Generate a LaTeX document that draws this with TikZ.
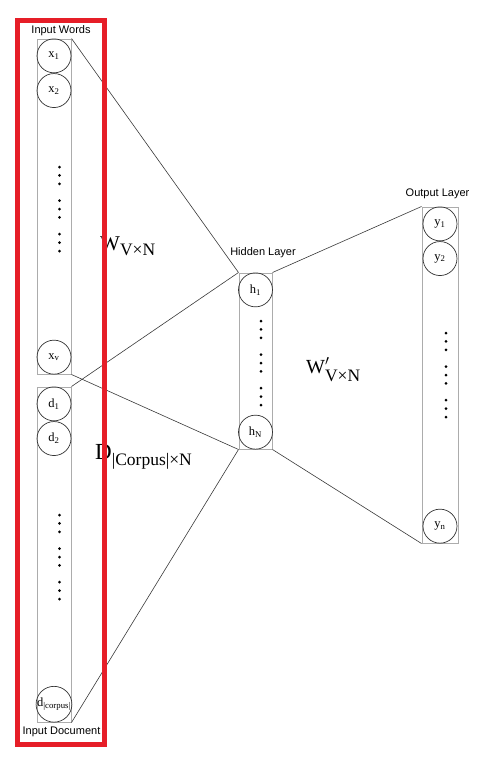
\documentclass[tikz,border=0pt]{standalone}
\usepackage{fontspec}
\setmainfont{Liberation Serif}
\setsansfont{Liberation Sans}
\usetikzlibrary{positioning}
\definecolor{hlred}{RGB}{230,30,40}
\tikzset{
    layer_col/.style={
        draw=gray!65,
        line width=1pt,
        inner sep=0pt,
        minimum width=34pt
    },
    unit/.style={circle, draw=gray!40!black, line width=0.7pt, inner sep=0pt,
        minimum size=34pt, font=\fontsize{12.5}{12.5}\selectfont},
    link/.style={draw=gray!45!black, line width=0.6pt},
    layer_name/.style={font=\sffamily\fontsize{11}{11}\selectfont, inner sep=0pt},
    weight/.style={anchor=base west, inner sep=0pt, font=\fontsize{21}{21}\selectfont}
}
\newcommand{\dotstack}[2]{%
    \foreach \gi in {0,1,2}
        \foreach \di in {0,1,2}
            \fill (#1, {#2+33.6*\gi+8.4*\di}) circle (1.5pt);
}
\newcommand{\wsub}[2]{\raisebox{-#1}{\fontsize{17.5}{17.5}\selectfont #2}}

\begin{document}
\begin{tikzpicture}[x=1pt, y=-1pt]
    \useasboundingbox (0,0) rectangle (487,761);

    % Input words column
    \node[layer_col, minimum height=335pt] (words) at (54,206.5) {};
    \node[unit, below=0pt of words.north] (x1) {x\textsubscript{1}};
    \node[unit, below=0pt of x1] (x2) {x\textsubscript{2}};
    \node[unit, above=0pt of words.south] (xv) {x\textsubscript{v}};
    \dotstack{59.5}{167}
    \node[layer_name] (words_name) at (61,31) {Input Words};

    % Input document column
    \node[layer_col, minimum height=335pt] (docs) at (54,554.5) {};
    \node[unit, below=0pt of docs.north] (d1) {d\textsubscript{1}};
    \node[unit, below=0pt of d1] (d2) {d\textsubscript{2}};
    \node[unit, above=0pt of docs.south] (dc) {d\textsubscript{|corpus|}};
    \dotstack{59.5}{515}
    \node[layer_name] (docs_name) at (61.5,732) {Input Document};

    % Hidden layer
    \node[layer_col, minimum width=33pt, minimum height=176pt] (hidden) at (255.5,361) {};
    \node[unit, below=0pt of hidden.north] (h1) {h\textsubscript{1}};
    \node[unit, above=0pt of hidden.south] (hN) {h\textsubscript{N}};
    \dotstack{261}{321}
    \node[layer_name] (hidden_name) at (263,253) {Hidden Layer};

    % Output layer
    \node[layer_col, minimum width=36pt, minimum height=336pt] (output) at (440,375) {};
    \node[unit, below=0pt of output.north] (y1) {y\textsubscript{1}};
    \node[unit, below=0pt of y1] (y2) {y\textsubscript{2}};
    \node[unit, above=0pt of output.south] (yn) {y\textsubscript{n}};
    \dotstack{446}{333}
    \node[layer_name] (output_name) at (437.5,194) {Output Layer};

    % Connections
    \draw[link] (words.north east) -- (hidden.north west);
    \draw[link] (words.south east) -- (hidden.south west);
    \draw[link] (docs.north east) -- (hidden.north west);
    \draw[link] (docs.south east) -- (hidden.south west);
    \draw[link] (hidden.north east) -- (output.north west);
    \draw[link] (hidden.south east) -- (output.south west);

    % Weight labels
    \node[weight] (w_in) at (100,250) {W\wsub{5pt}{V×N}};
    \node[weight, font=\fontsize{20}{20}\selectfont] (w_out) at (306,373)
        {W\rlap{$^{\prime}$}\wsub{8pt}{V×N}};
    \node[weight, font=\fontsize{23}{23}\selectfont] (d_in) at (95,459)
        {D\wsub{6pt}{|Corpus|×N}};

    % Highlight
    \draw[hlred, line width=5pt] (17.5,20.5) rectangle (104.5,744.5);
\end{tikzpicture}
\end{document}
